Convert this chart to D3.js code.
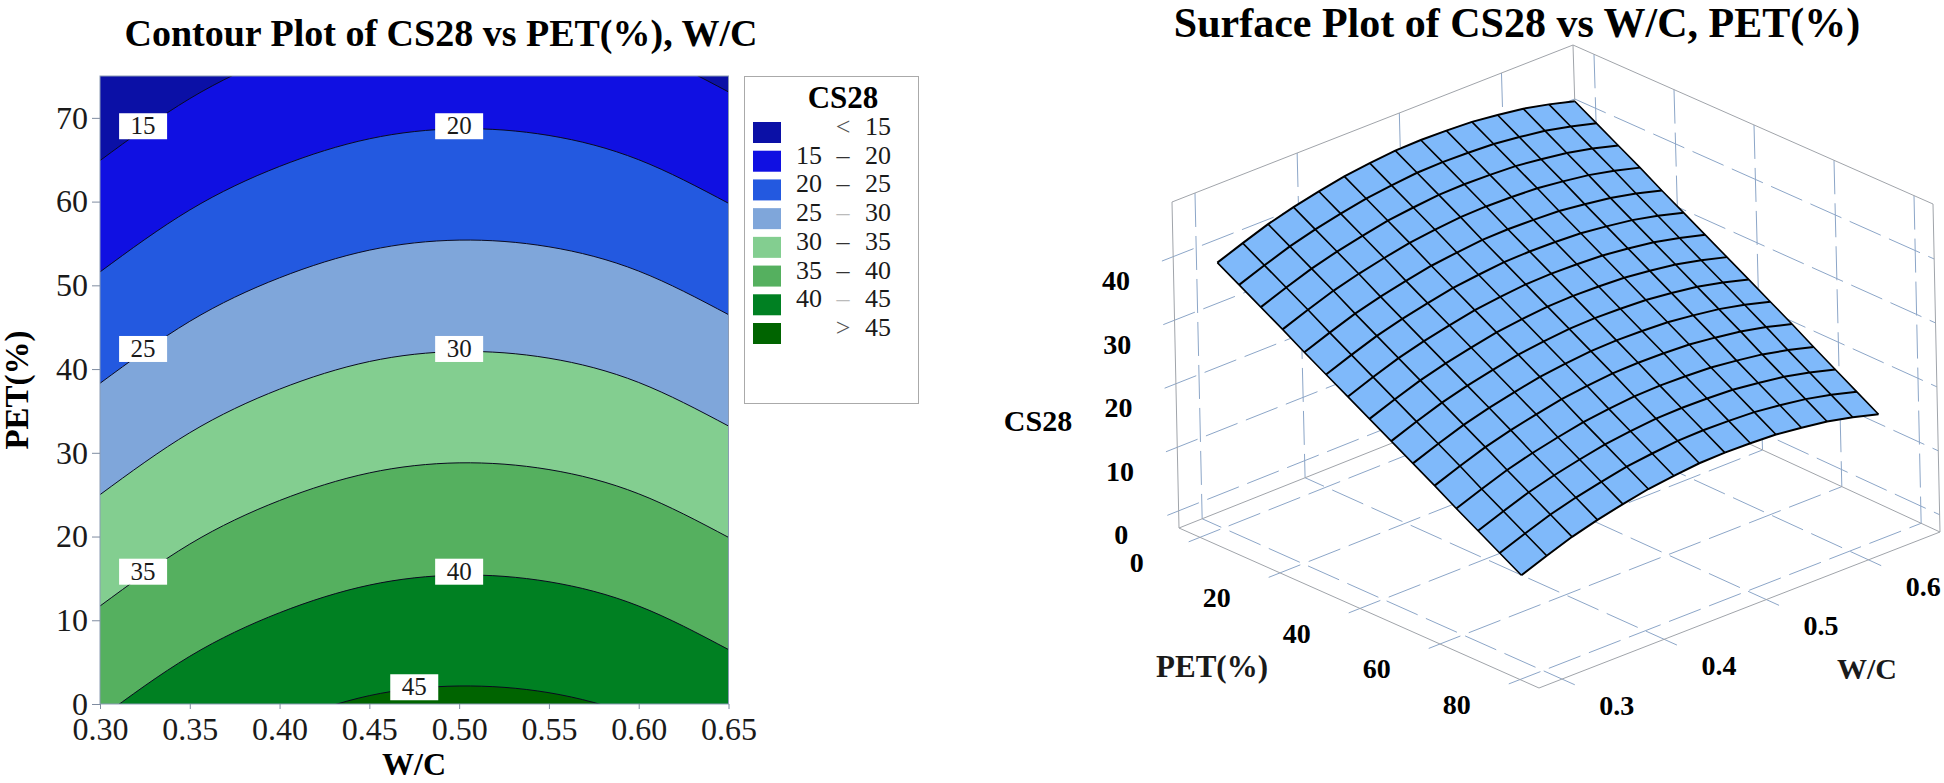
<!DOCTYPE html>
<html>
<head>
<meta charset="utf-8">
<script src="https://cdn.jsdelivr.net/npm/d3@7"></script>
<style>
    html, body { margin: 0; padding: 0; background: #fff; }
    svg { display: block; }
    text { font-family: "Liberation Serif", serif; fill: #1a1a1a; }
    .bold { font-weight: bold; fill: #000; }
</style>
</head>
<body>
<div id="chart"></div>
<script>
// contour plot data: PET(%) of each contour at the W/C grid
var wcGrid = [0.30, 0.35, 0.40, 0.45, 0.50, 0.55, 0.60, 0.65];
var levels = [15, 20, 25, 30, 35, 40, 45];
var contour15 = [64.9, 72.3, 77.5, 80.8, 82, 81.2, 78.3, 73.1];
var contour20 = [51.6, 59, 64.2, 67.5, 68.7, 67.9, 65, 59.8];
var contour25 = [38.3, 45.7, 50.9, 54.2, 55.4, 54.6, 51.7, 46.5];
var contour30 = [25, 32.4, 37.6, 40.9, 42.1, 41.3, 38.4, 33.2];
var contour35 = [11.7, 19.1, 24.3, 27.6, 28.8, 28, 25.1, 19.9];
var contour40 = [-1.7, 5.7, 10.9, 14.2, 15.4, 14.6, 11.7, 6.5];
var contour45 = [-15, -7.5, -2.4, 1, 2.15, 1.35, -1.6, -6.7];
var contours = [contour15, contour20, contour25, contour30, contour35, contour40, contour45];

// band colours, lowest band first
var bandColors = ["#0b10a6", "#1010e2", "#2359e0", "#7fa6da", "#83ce90", "#55b05f", "#008022", "#006400"];
var legendLow = ["", "15", "20", "25", "30", "35", "40", ""];
var legendMid = ["<", "–", "–", "–", "–", "–", "–", ">"];
var legendHigh = ["15", "20", "25", "30", "35", "40", "45", "45"];
var legendMidFill = ["#555", "#333", "#333", "#bbb", "#333", "#333", "#bbb", "#555"];

// contour labels
var labelText = ["15", "20", "25", "30", "35", "40", "45"];
var labelWc = [0.324, 0.5, 0.324, 0.5, 0.324, 0.5, 0.475];
var labelPet = [69, 69, 42.4, 42.4, 15.8, 15.8, 2];

var xTicks = [0.30, 0.35, 0.40, 0.45, 0.50, 0.55, 0.60, 0.65];
var yTicks = [0, 10, 20, 30, 40, 50, 60, 70];

// surface plot data: CS28 at the mesh nodes, one row per PET step, one column per W/C step
var meshWc = [0.3, 0.325, 0.35, 0.375, 0.4, 0.425, 0.45, 0.475, 0.5, 0.525, 0.55, 0.575, 0.6, 0.625, 0.65];
var meshPet = [0, 5.36, 10.71, 16.07, 21.43, 26.79, 32.14, 37.5, 42.86, 48.21, 53.57, 58.93, 64.29, 69.64, 75];
var meshCs28 = [
    [39.1, 40.6, 42.0, 43.1, 44.0, 44.8, 45.3, 45.7, 45.8, 45.7, 45.5, 45.0, 44.4, 43.5, 42.4],
    [37.1, 38.6, 40.0, 41.1, 42.0, 42.8, 43.3, 43.7, 43.8, 43.7, 43.5, 43.0, 42.4, 41.5, 40.4],
    [35.1, 36.6, 38.0, 39.1, 40.0, 40.8, 41.3, 41.7, 41.8, 41.7, 41.5, 41.0, 40.4, 39.5, 38.4],
    [33.1, 34.6, 36.0, 37.1, 38.0, 38.8, 39.3, 39.7, 39.8, 39.7, 39.5, 39.0, 38.4, 37.5, 36.4],
    [31.0, 32.5, 33.9, 35.0, 35.9, 36.7, 37.2, 37.6, 37.7, 37.6, 37.4, 36.9, 36.3, 35.4, 34.3],
    [29.0, 30.5, 31.9, 33.0, 33.9, 34.7, 35.2, 35.6, 35.7, 35.6, 35.4, 34.9, 34.3, 33.4, 32.3],
    [27.0, 28.5, 29.9, 31.0, 31.9, 32.7, 33.2, 33.6, 33.7, 33.6, 33.4, 32.9, 32.3, 31.4, 30.3],
    [25.0, 26.5, 27.9, 29.0, 29.9, 30.7, 31.2, 31.6, 31.7, 31.6, 31.4, 30.9, 30.3, 29.4, 28.3],
    [23.0, 24.5, 25.9, 27.0, 27.9, 28.7, 29.2, 29.6, 29.7, 29.6, 29.4, 28.9, 28.3, 27.4, 26.3],
    [21.0, 22.5, 23.9, 25.0, 25.9, 26.7, 27.2, 27.6, 27.7, 27.6, 27.4, 26.9, 26.3, 25.4, 24.3],
    [19.0, 20.5, 21.9, 23.0, 23.9, 24.7, 25.2, 25.6, 25.7, 25.6, 25.4, 24.9, 24.3, 23.4, 22.3],
    [16.9, 18.4, 19.8, 20.9, 21.8, 22.6, 23.1, 23.5, 23.6, 23.5, 23.3, 22.8, 22.2, 21.3, 20.2],
    [14.9, 16.4, 17.8, 18.9, 19.8, 20.6, 21.1, 21.5, 21.6, 21.5, 21.3, 20.8, 20.2, 19.3, 18.2],
    [12.9, 14.4, 15.8, 16.9, 17.8, 18.6, 19.1, 19.5, 19.6, 19.5, 19.3, 18.8, 18.2, 17.3, 16.2],
    [10.9, 12.4, 13.8, 14.9, 15.8, 16.6, 17.1, 17.5, 17.6, 17.5, 17.3, 16.8, 16.2, 15.3, 14.2]
];
var surfacePetTicks = [0, 20, 40, 60, 80];
var surfaceWcTicks = [0.3, 0.4, 0.5, 0.6];
var surfaceZTicks = [0, 10, 20, 30, 40];

var svg = d3.select("#chart").append("svg")
    .attr("width", 1944)
    .attr("height", 783);

// ---- contour plot ----
var x = d3.scaleLinear().domain([0.30, 0.65]).range([100, 728.5]);
var y = d3.scaleLinear().domain([0, 75]).range([704, 76]);

svg.append("text").attr("class", "bold")
    .attr("x", 441).attr("y", 46)
    .attr("text-anchor", "middle").style("font-size", "38px")
    .text("Contour Plot of CS28 vs PET(%), W/C");

svg.append("clipPath").attr("id", "plotClip").append("rect")
    .attr("x", x.range()[0]).attr("y", y.range()[1])
    .attr("width", x.range()[1] - x.range()[0])
    .attr("height", y.range()[0] - y.range()[1]);

var contourG = svg.append("g").attr("clip-path", "url(#plotClip)");

contourG.append("rect")
    .attr("x", x.range()[0]).attr("y", y.range()[1])
    .attr("width", x.range()[1] - x.range()[0])
    .attr("height", y.range()[0] - y.range()[1])
    .attr("fill", bandColors[0]);

var bandArea = d3.area()
    .x(function(d, i) { return x(wcGrid[i]); })
    .y0(y(-20))
    .y1(function(d) { return y(d); })
    .curve(d3.curveNatural);

var bandLine = d3.line()
    .x(function(d, i) { return x(wcGrid[i]); })
    .y(function(d) { return y(d); })
    .curve(d3.curveNatural);

contours.forEach(function(c, i) {
    contourG.append("path").attr("d", bandArea(c)).attr("fill", bandColors[i + 1]);
    contourG.append("path").attr("d", bandLine(c))
        .attr("fill", "none").attr("stroke", "#0a0a20").attr("stroke-width", 1);
});

// frame
svg.append("rect")
    .attr("x", x.range()[0]).attr("y", y.range()[1])
    .attr("width", x.range()[1] - x.range()[0])
    .attr("height", y.range()[0] - y.range()[1])
    .attr("fill", "none").attr("stroke", "#8b9bb4").attr("stroke-width", 1);

// contour labels
labelText.forEach(function(t, i) {
    svg.append("rect")
        .attr("x", x(labelWc[i]) - 24).attr("y", y(labelPet[i]) - 13)
        .attr("width", 48).attr("height", 26)
        .attr("fill", "#fff");
    svg.append("text")
        .attr("x", x(labelWc[i])).attr("y", y(labelPet[i]) + 8)
        .attr("text-anchor", "middle").style("font-size", "25px")
        .text(t);
});

// axes
var xAxis = d3.axisBottom(x).tickValues(xTicks).tickFormat(d3.format(".2f")).tickSize(5).tickPadding(8);
var yAxis = d3.axisLeft(y).tickValues(yTicks).tickSize(8).tickPadding(4);

var xG = svg.append("g").attr("transform", "translate(0," + y.range()[0] + ")").call(xAxis);
var yG = svg.append("g").attr("transform", "translate(" + x.range()[0] + ",0)").call(yAxis);
[xG, yG].forEach(function(g) {
    g.select(".domain").remove();
    g.selectAll("line").attr("stroke", "#7f8ca0");
    g.selectAll("text").style("font-size", "32px").style("font-family", "Liberation Serif").attr("fill", "#1a1a1a");
});

svg.append("text").attr("class", "bold")
    .attr("x", 414).attr("y", 775)
    .attr("text-anchor", "middle").style("font-size", "32px")
    .text("W/C");

svg.append("text").attr("class", "bold")
    .attr("transform", "translate(28,390) rotate(-90)")
    .attr("text-anchor", "middle").style("font-size", "33px")
    .text("PET(%)");

// legend
svg.append("rect")
    .attr("x", 744.5).attr("y", 76.5).attr("width", 174).attr("height", 327)
    .attr("fill", "#fff").attr("stroke", "#aaa");

svg.append("text").attr("class", "bold")
    .attr("x", 843).attr("y", 108)
    .attr("text-anchor", "middle").style("font-size", "31px")
    .text("CS28");

var legendY = d3.scaleLinear().domain([0, 7]).range([132, 333]);

bandColors.forEach(function(c, i) {
    svg.append("rect")
        .attr("x", 753).attr("y", legendY(i) - 10)
        .attr("width", 28).attr("height", 21)
        .attr("fill", c);
    svg.append("text").attr("x", 809).attr("y", legendY(i) + 3)
        .attr("text-anchor", "middle").style("font-size", "26px").text(legendLow[i]);
    svg.append("text").attr("x", 843).attr("y", legendY(i) + 3)
        .attr("text-anchor", "middle").style("font-size", "26px")
        .style("fill", legendMidFill[i]).text(legendMid[i]);
    svg.append("text").attr("x", 878).attr("y", legendY(i) + 3)
        .attr("text-anchor", "middle").style("font-size", "26px").text(legendHigh[i]);
});

// ---- surface plot ----
// box corners on the page, floor and top
var cornerL = [1179, 528], cornerF = [1539, 688], cornerR = [1940, 532], cornerB = [1583, 367];
var topL = [1172, 202], topF = [1533, 362], topR = [1933, 204], topB = [1573, 45];

var u = d3.scaleLinear().domain([-5.25, 84.75]).range([0, 1]);
var v = d3.scaleLinear().domain([0.2775, 0.67]).range([0, 1]);
var w = d3.scaleLinear().domain([-2.7, 48.6]).range([0, 1]);

function mix(a, b, t) { return [a[0] + (b[0] - a[0]) * t, a[1] + (b[1] - a[1]) * t]; }

function project(pet, wc, z) {
    var a = u(pet), b = v(wc), c = w(z);
    var floor = mix(mix(cornerL, cornerF, a), mix(cornerB, cornerR, a), b);
    var top = mix(mix(topL, topF, a), mix(topB, topR, a), b);
    return mix(floor, top, c);
}

var petLo = u.domain()[0], petHi = u.domain()[1];
var wcLo = v.domain()[0], wcHi = v.domain()[1];
var zLo = w.domain()[0], zHi = w.domain()[1];
var petExt = petLo - 3.2, wcExt = wcLo - 0.011; // dashes stick out of the box a little

var line3d = d3.line();

var gridG = svg.append("g").attr("fill", "none").attr("stroke", "#8ca6c8").attr("stroke-width", 1)
    .attr("stroke-dasharray", "34 9");
var gridLines = [];

// back walls: verticals
surfaceWcTicks.forEach(function(t) { gridLines.push([project(petLo, t, zHi), project(petLo, t, zLo)]); });
surfacePetTicks.forEach(function(t) { gridLines.push([project(t, wcHi, zHi), project(t, wcHi, zLo)]); });
// back walls: CS28 ticks
surfaceZTicks.forEach(function(t) {
    gridLines.push([project(petLo, wcExt, t), project(petLo, wcHi, t)]);
    gridLines.push([project(petLo, wcHi, t), project(petHi, wcHi, t)]);
});
// floor
surfacePetTicks.forEach(function(t) { gridLines.push([project(t, wcExt, zLo), project(t, wcHi, zLo)]); });
surfaceWcTicks.forEach(function(t) { gridLines.push([project(petHi + 3.2, t, zLo), project(petLo, t, zLo)]); });

gridLines.forEach(function(l) { gridG.append("path").attr("d", line3d(l)); });

// box edges
var boxEdges = [
    [cornerL, cornerF], [cornerF, cornerR], [cornerL, cornerB], [cornerB, cornerR],
    [cornerL, topL], [cornerR, topR], [cornerB, topB],
    [topL, topB], [topB, topR]
];
var boxG = svg.append("g").attr("fill", "none").attr("stroke", "#a0a4aa").attr("stroke-width", 1);
boxEdges.forEach(function(l) { boxG.append("path").attr("d", line3d(l)); });

// surface: fill the cells, then the mesh lines on top
var surfaceG = svg.append("g");
for (var i = 0; i < meshPet.length - 1; i++) {
    for (var j = 0; j < meshWc.length - 1; j++) {
        surfaceG.append("path")
            .attr("d", line3d([
                project(meshPet[i], meshWc[j], meshCs28[i][j]),
                project(meshPet[i + 1], meshWc[j], meshCs28[i + 1][j]),
                project(meshPet[i + 1], meshWc[j + 1], meshCs28[i + 1][j + 1]),
                project(meshPet[i], meshWc[j + 1], meshCs28[i][j + 1])
            ]) + "Z")
            .attr("fill", "#7fb9fa").attr("stroke", "#7fb9fa").attr("stroke-width", 0.5);
    }
}
meshPet.forEach(function(p, i) {
    surfaceG.append("path")
        .attr("d", line3d(meshWc.map(function(c, j) { return project(p, c, meshCs28[i][j]); })))
        .attr("fill", "none").attr("stroke", "#000").attr("stroke-width", 2);
});
meshWc.forEach(function(c, j) {
    surfaceG.append("path")
        .attr("d", line3d(meshPet.map(function(p, i) { return project(p, c, meshCs28[i][j]); })))
        .attr("fill", "none").attr("stroke", "#000").attr("stroke-width", 1.6);
});

// surface labels
svg.append("text").attr("class", "bold")
    .attr("x", 1517).attr("y", 37)
    .attr("text-anchor", "middle").style("font-size", "42px")
    .text("Surface Plot of CS28 vs W/C, PET(%)");

function surfaceLabel(p, dx, dy, t) {
    svg.append("text").attr("class", "bold")
        .attr("x", p[0] + dx).attr("y", p[1] + dy)
        .attr("text-anchor", "middle").style("font-size", "28px")
        .text(t);
}
surfaceZTicks.forEach(function(t) { surfaceLabel(project(petLo, wcExt, t), -46, 29, t); });
surfacePetTicks.forEach(function(t) { surfaceLabel(project(t, wcExt, zLo), -52, 30, t); });
surfaceWcTicks.forEach(function(t) { surfaceLabel(project(petHi + 3.2, t, zLo), 42, 30, d3.format(".1f")(t)); });

svg.append("text").attr("class", "bold")
    .attr("x", 1038).attr("y", 431)
    .attr("text-anchor", "middle").style("font-size", "30px").text("CS28");
svg.append("text")
    .attr("x", 1212).attr("y", 677)
    .attr("text-anchor", "middle").style("font-size", "31px").style("font-weight", "600").text("PET(%)");
svg.append("text")
    .attr("x", 1867).attr("y", 679)
    .attr("text-anchor", "middle").style("font-size", "30px").style("font-weight", "600").text("W/C");
</script>
</body>
</html>
